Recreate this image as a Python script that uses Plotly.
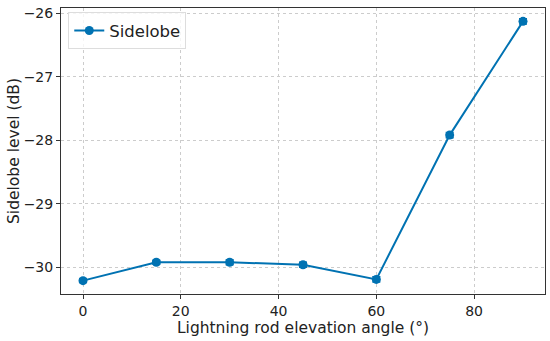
import plotly.graph_objects as go

angles = [0, 15, 30, 45, 60, 75, 90]
sidelobe = [-30.21, -29.92, -29.92, -29.96, -30.19, -27.92, -26.13]
errors = [0.03, 0.03, 0.04, 0.04, 0.04, 0.04, 0.04]

color = "#0072B2"
fig = go.Figure()
fig.add_trace(go.Scatter(
    x=angles, y=sidelobe, mode="lines+markers", name="Sidelobe",
    line=dict(color=color, width=2),
    marker=dict(color=color, size=9, symbol="circle"),
    error_y=dict(type="data", array=errors, visible=True, color=color, thickness=1.5, width=4),
))

axis_common = dict(
    showline=True, linecolor="#333333", linewidth=1, mirror=True,
    ticks="outside", ticklen=4, tickcolor="#333333",
    showgrid=True, gridcolor="#cccccc", griddash="3px,3px", gridwidth=1,
    zeroline=False, tickfont=dict(size=14, color="#222222", family="DejaVu Sans"),
    automargin=False,
)
fig.update_layout(
    width=550, height=341,
    margin=dict(l=61, r=5, t=8, b=47),
    plot_bgcolor="white", paper_bgcolor="white",
    font=dict(family="DejaVu Sans", color="#222222"),
    xaxis=dict(range=[-4.5, 94.5], tickvals=[0, 20, 40, 60, 80],
               title=dict(text="Lightning rod elevation angle (°)", font=dict(size=15.5), standoff=2),
               **axis_common),
    yaxis=dict(range=[-30.42, -25.92], tickvals=[-30, -29, -28, -27, -26],
               tickformat=".0f",
               title=dict(text="Sidelobe level (dB)", font=dict(size=15.5), standoff=0),
               **axis_common),
    legend=dict(x=0.015, y=0.985, xanchor="left", yanchor="top",
                bordercolor="#dddddd", borderwidth=1, bgcolor="rgba(255,255,255,0.8)",
                font=dict(size=16.5)),
    showlegend=True,
)
fig.write_html("out.html", config={"displayModeBar": False, "responsive": False},
               post_script="document.body.style.margin='0';document.body.style.padding='0';")
